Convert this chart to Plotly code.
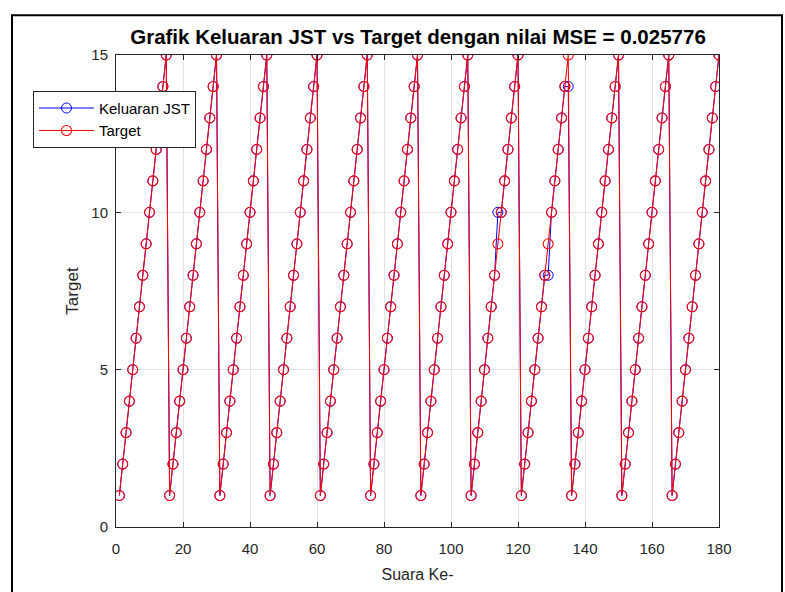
import plotly.graph_objects as go

# Data
x_index = list(range(1, 181))
target = [((i - 1) % 15) + 1 for i in x_index]
keluaran_jst = list(target)
# deviations
keluaran_jst[114 - 1] = 10
keluaran_jst[129 - 1] = 8
keluaran_jst[135 - 1] = 14

x_ticks = [0, 20, 40, 60, 80, 100, 120, 140, 160, 180]
y_ticks = [0, 5, 10, 15]
title_text = "Grafik Keluaran JST vs Target dengan nilai MSE = 0.025776"

fig = go.Figure()
fig.add_trace(go.Scatter(
    x=x_index, y=keluaran_jst, mode="lines+markers", name="Keluaran JST",
    line=dict(color="#0000ff", width=1),
    marker=dict(symbol="circle-open", size=10, color="#0000ff", line=dict(width=1)),
))
fig.add_trace(go.Scatter(
    x=x_index, y=target, mode="lines+markers", name="Target",
    line=dict(color="#ff0000", width=1.05),
    marker=dict(symbol="circle-open", size=10, color="#ff0000", line=dict(width=1.05)),
))

L, R, T, B = 116, 66, 55, 62
W, H = 785, 592
pw, ph = W - L - R, H - T - B

def px(xp):
    return (xp - L) / pw

def py(yp):
    return (H - B - yp) / ph

FONT = "Liberation Sans, Arial"
axis_common = dict(
    showline=True, linecolor="#262626", linewidth=1, mirror="ticks",
    ticks="inside", ticklen=5, tickcolor="#262626",
    showgrid=True, gridcolor="#e3e3e3", gridwidth=1, zeroline=False,
    tickfont=dict(family=FONT, size=15, color="#262626"),
)

fig.update_layout(
    width=W, height=H,
    margin=dict(l=L, r=R, t=T, b=B),
    paper_bgcolor="white", plot_bgcolor="white",
    title=dict(text="<b>" + title_text + "</b>", x=418 / W, xanchor="center",
               y=1 - 37 / H, yanchor="middle",
               font=dict(family=FONT, size=20.5, color="black")),
    xaxis=dict(range=[0, 180], tickvals=x_ticks, ticklabelstandoff=8, **axis_common,
               title=dict(text="Suara Ke-", standoff=12,
                          font=dict(family=FONT, size=16, color="#262626"))),
    yaxis=dict(range=[0, 15], tickvals=y_ticks, ticklabelstandoff=4, **axis_common,
               title=dict(text="Target", standoff=8,
                          font=dict(family=FONT, size=17, color="#262626"))),
    legend=dict(x=px(33), y=py(91), xanchor="left", yanchor="top",
                bgcolor="white", bordercolor="#262626", borderwidth=1,
                font=dict(family=FONT, size=15, color="black"),
                itemwidth=55, tracegroupgap=0),
    showlegend=True,
    shapes=[dict(type="rect", xref="paper", yref="paper",
                 x0=px(12), x1=px(782), y0=py(600), y1=py(15),
                 line=dict(color="black", width=2), fillcolor="rgba(0,0,0,0)",
                 layer="above")],
)

fig.write_html("out.html")
